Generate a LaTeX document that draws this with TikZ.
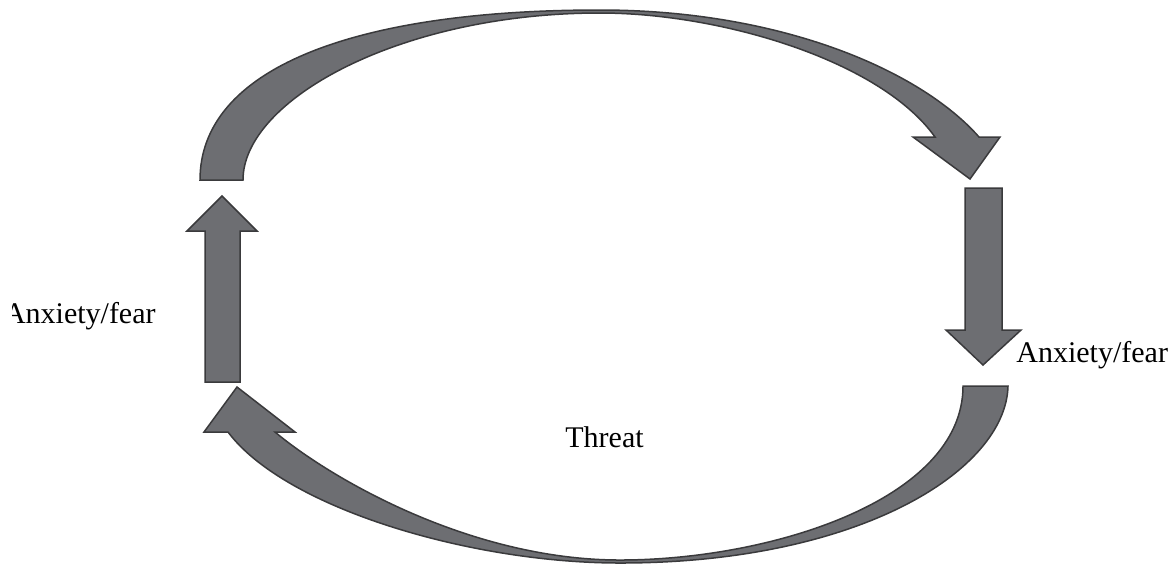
\documentclass[tikz,border=0pt]{standalone}
\usepackage{fontspec}
\setmainfont{Liberation Serif}
\definecolor{arrowfill}{RGB}{109,110,114}
\definecolor{arrowline}{RGB}{58,58,60}
\tikzset{
  blockarrow/.style={fill=arrowfill, draw=arrowline, line width=0.75pt, line join=miter},
  lbl/.style={inner sep=0pt, font=\fontsize{15}{18}\selectfont, text=black}
}
\begin{document}
\begin{tikzpicture}[x=0.5pt,y=-0.5pt]
\useasboundingbox (0,0) rectangle (1170,564);
% top curved arrow
\filldraw[blockarrow] (200,180) -- (243,180)
  .. controls (243,100) and (400,13) .. (600,13)
  .. controls (720,13) and (880,60) .. (935,137)
  -- (913,137) -- (970,179) -- (1000,137) -- (979,137)
  .. controls (920,70) and (780,10) .. (600,10)
  .. controls (350,10) and (200,70) .. (200,180)
  -- cycle;
% right down arrow
\filldraw[blockarrow] (965,188) -- (1002,188) -- (1002,330) -- (1021,330) -- (983,365) -- (946,330) -- (965,330) -- cycle;
% bottom curved arrow
\filldraw[blockarrow] (963,386) -- (1008,386)
  .. controls (1006,470) and (860,563) .. (620,563)
  .. controls (470,563) and (285,508) .. (228,432)
  -- (204,432) -- (237,387) -- (295,432) -- (275,432)
  .. controls (330,478) and (470,560) .. (620,560)
  .. controls (770,560) and (963,500) .. (963,386)
  -- cycle;
% left up arrow
\filldraw[blockarrow] (205,382) -- (205,231) -- (187,231) -- (222,196) -- (257,231) -- (240,231) -- (240,382) -- cycle;
% labels
\begin{scope}
\clip (12,250) rectangle (200,350);
\node[lbl, anchor=base east] (leftlbl) at (156,323) {Anxiety/fear};
\end{scope}
\node[lbl, anchor=base west] (rightlbl) at (1016,362) {Anxiety/fear};
\node[lbl, anchor=base west] (threat) at (565,447) {Threat};
\end{tikzpicture}
\end{document}
